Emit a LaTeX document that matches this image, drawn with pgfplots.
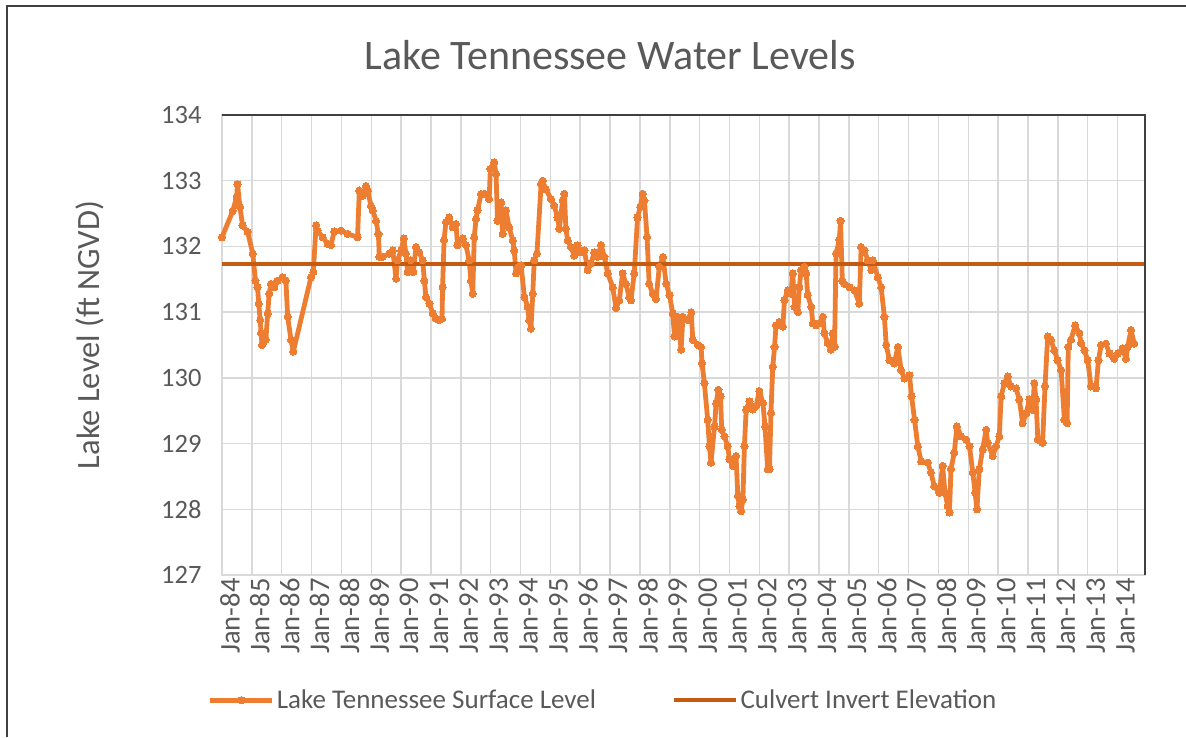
\documentclass[border=0pt]{standalone}
\usepackage{fontspec}
\setmainfont{Carlito}
\usepackage{pgfplots}
\pgfplotsset{compat=1.18}
\definecolor{serieso}{HTML}{ED7D31}
\definecolor{culv}{HTML}{C55A11}
\definecolor{txt}{HTML}{595959}
\definecolor{gridc}{HTML}{D9D9D9}
\definecolor{frame}{HTML}{404040}
\pgfplotstableread{
x y
1984.00 132.14
1984.36 132.54
1984.49 132.75
1984.52 132.95
1984.60 132.60
1984.69 132.32
1984.86 132.22
1985.03 131.89
1985.12 131.48
1985.19 131.38
1985.23 131.13
1985.28 130.88
1985.31 130.68
1985.34 130.50
1985.40 130.55
1985.47 130.58
1985.53 130.98
1985.58 131.28
1985.64 131.43
1985.75 131.38
1985.86 131.48
1986.03 131.53
1986.14 131.48
1986.20 130.93
1986.31 130.58
1986.39 130.40
1986.98 131.53
1987.06 131.61
1987.15 132.32
1987.20 132.24
1987.37 132.14
1987.54 132.04
1987.65 132.02
1987.76 132.23
1987.99 132.24
1988.21 132.19
1988.54 132.14
1988.60 132.85
1988.71 132.77
1988.82 132.92
1988.88 132.85
1988.99 132.62
1989.05 132.55
1989.16 132.39
1989.24 132.19
1989.27 131.84
1989.38 131.84
1989.60 131.89
1989.72 131.94
1989.83 131.51
1989.88 131.79
1990.00 131.94
1990.09 132.12
1990.16 131.89
1990.22 131.61
1990.33 131.79
1990.41 131.61
1990.50 131.99
1990.61 131.91
1990.72 131.79
1990.78 131.48
1990.83 131.23
1990.95 131.13
1991.06 130.98
1991.17 130.90
1991.28 130.88
1991.37 130.90
1991.39 131.38
1991.44 132.10
1991.50 132.37
1991.61 132.44
1991.73 132.29
1991.84 132.34
1991.89 132.02
1992.06 132.12
1992.17 132.02
1992.28 131.79
1992.34 131.48
1992.40 131.28
1992.45 132.14
1992.51 132.42
1992.56 132.55
1992.68 132.80
1992.79 132.80
1992.95 132.72
1992.99 133.18
1993.12 133.28
1993.18 133.10
1993.23 132.39
1993.35 132.67
1993.40 132.19
1993.51 132.55
1993.62 132.29
1993.74 132.09
1993.79 131.94
1993.85 131.59
1993.93 131.69
1994.02 131.71
1994.13 131.23
1994.24 131.08
1994.29 130.88
1994.35 130.75
1994.41 131.28
1994.46 131.79
1994.55 131.89
1994.69 132.95
1994.74 133.00
1994.85 132.87
1995.02 132.72
1995.13 132.62
1995.24 132.44
1995.30 132.27
1995.41 132.70
1995.47 132.80
1995.52 132.27
1995.58 132.09
1995.69 131.99
1995.80 131.86
1995.91 132.02
1996.02 131.91
1996.14 131.94
1996.25 131.64
1996.36 131.74
1996.47 131.91
1996.58 131.84
1996.70 132.02
1996.81 131.84
1996.92 131.59
1997.09 131.38
1997.20 131.06
1997.31 131.18
1997.42 131.59
1997.53 131.43
1997.64 131.23
1997.70 131.18
1997.81 131.59
1997.92 132.44
1998.01 132.60
1998.09 132.80
1998.15 132.70
1998.24 132.14
1998.31 131.43
1998.43 131.28
1998.54 131.20
1998.65 131.69
1998.77 131.84
1998.88 131.43
1998.99 131.26
1999.10 130.98
1999.16 130.63
1999.27 130.93
1999.38 130.43
1999.44 130.93
1999.60 130.88
1999.72 131.00
1999.77 130.58
1999.94 130.50
2000.05 130.47
2000.08 130.22
2000.16 129.92
2000.27 129.36
2000.33 128.96
2000.38 128.71
2000.50 129.26
2000.55 129.61
2000.63 129.82
2000.70 129.72
2000.74 129.21
2000.83 129.11
2000.94 128.96
2001.00 128.76
2001.11 128.66
2001.22 128.81
2001.28 128.20
2001.33 128.05
2001.39 127.97
2001.45 128.15
2001.50 128.96
2001.56 129.52
2001.67 129.64
2001.78 129.52
2001.89 129.57
2002.00 129.80
2002.12 129.62
2002.19 129.26
2002.28 128.61
2002.34 128.61
2002.39 129.47
2002.45 130.17
2002.51 130.47
2002.56 130.80
2002.67 130.85
2002.79 130.78
2002.84 131.18
2002.95 131.33
2003.06 131.28
2003.12 131.59
2003.18 131.08
2003.29 131.00
2003.34 131.38
2003.40 131.64
2003.51 131.69
2003.57 131.59
2003.62 131.26
2003.74 131.08
2003.79 130.83
2003.90 130.80
2004.01 130.83
2004.13 130.93
2004.18 130.68
2004.29 130.53
2004.40 130.43
2004.46 130.68
2004.52 130.47
2004.57 131.89
2004.68 132.10
2004.72 132.39
2004.78 131.48
2004.85 131.43
2005.02 131.38
2005.19 131.33
2005.35 131.13
2005.41 131.99
2005.52 131.94
2005.63 131.79
2005.75 131.64
2005.80 131.79
2005.97 131.53
2006.08 131.38
2006.19 130.93
2006.25 130.50
2006.36 130.27
2006.52 130.22
2006.64 130.47
2006.75 130.12
2006.86 129.99
2007.03 130.04
2007.10 129.72
2007.20 129.36
2007.31 128.96
2007.42 128.73
2007.64 128.71
2007.75 128.56
2007.86 128.35
2008.03 128.25
2008.14 128.66
2008.22 128.25
2008.31 128.05
2008.37 127.95
2008.42 128.61
2008.53 128.86
2008.62 129.26
2008.76 129.11
2008.93 129.06
2009.04 128.96
2009.15 128.56
2009.23 128.25
2009.29 128.00
2009.37 128.61
2009.48 128.91
2009.60 129.21
2009.65 129.01
2009.82 128.81
2009.93 128.96
2010.04 129.11
2010.10 129.72
2010.21 129.92
2010.32 130.02
2010.43 129.87
2010.60 129.84
2010.71 129.67
2010.82 129.31
2010.94 129.46
2011.05 129.67
2011.16 129.51
2011.21 129.92
2011.27 129.67
2011.33 129.06
2011.49 129.01
2011.57 129.87
2011.66 130.63
2011.77 130.58
2011.88 130.42
2011.99 130.27
2012.11 130.12
2012.22 129.36
2012.31 129.31
2012.35 130.47
2012.44 130.58
2012.58 130.80
2012.72 130.68
2012.78 130.53
2012.89 130.42
2013.00 130.27
2013.11 129.87
2013.28 129.84
2013.36 130.27
2013.45 130.50
2013.61 130.52
2013.73 130.37
2013.89 130.29
2014.01 130.37
2014.17 130.45
2014.28 130.29
2014.34 130.47
2014.45 130.73
2014.56 130.52
}\lake
\begin{document}
\begin{tikzpicture}
\useasboundingbox (0pt,0pt) rectangle (1186pt,737pt);
\draw[frame, line width=2pt] (7pt,0pt) -- (7pt,730.5pt) -- (1186pt,730.5pt);
\begin{axis}[
  at={(222pt,162pt)}, anchor=south west,
  scale only axis, width=923pt, height=460pt,
  xmin=1984, xmax=2014.92, ymin=127, ymax=134,
  xtick={1984,1985,...,2014},
  xticklabels={Jan-84,Jan-85,Jan-86,Jan-87,Jan-88,Jan-89,Jan-90,Jan-91,Jan-92,Jan-93,Jan-94,Jan-95,Jan-96,Jan-97,Jan-98,Jan-99,Jan-00,Jan-01,Jan-02,Jan-03,Jan-04,Jan-05,Jan-06,Jan-07,Jan-08,Jan-09,Jan-10,Jan-11,Jan-12,Jan-13,Jan-14},
  ytick={127,128,...,134},
  grid=major, major grid style={gridc, line width=1.5pt},
  axis line style={gridc, line width=1.5pt},
  tick style={draw=none},
  /pgf/number format/assume math mode=true,
  ticklabel style={txt},
  yticklabel style={xshift=-17pt, font=\fontsize{26.5}{30}\selectfont},
  xticklabel style={rotate=90, anchor=east, yshift=-8pt, font=\fontsize{28.5}{32}\selectfont},
  clip=false,
  legend columns=2,
  legend style={draw=none, fill=none, at={(0.413,-0.272)}, anchor=center,
    font=\fontsize{27}{32}\selectfont, text=txt},
  legend image code/.code={\draw[#1, mark repeat=2, mark phase=2] plot coordinates {(0pt,0pt) (31pt,0pt) (62pt,0pt)};},
]
\addplot[serieso, line width=4.8pt, mark=*, mark size=3.6pt, mark options={solid, fill=serieso, draw=serieso, line width=0pt}, line join=round] table {\lake};
\addlegendentry{Lake Tennessee Surface Level\hspace*{74pt}\mbox{}}
\addplot[culv, line width=4.5pt] coordinates {(1984,131.73) (2014.92,131.73)};
\addlegendentry{Culvert Invert Elevation}
\draw[frame, line width=2pt] (rel axis cs:0,1) -- (rel axis cs:1,1) -- (rel axis cs:1,0);
\end{axis}
\node[txt, font=\fontsize{42}{48}\selectfont] at (610pt,682pt) {Lake Tennessee Water Levels};
\node[txt, rotate=90, font=\fontsize{32.5}{38}\selectfont] at (90pt,402pt) {Lake Level (ft NGVD)};
\end{tikzpicture}
\end{document}
